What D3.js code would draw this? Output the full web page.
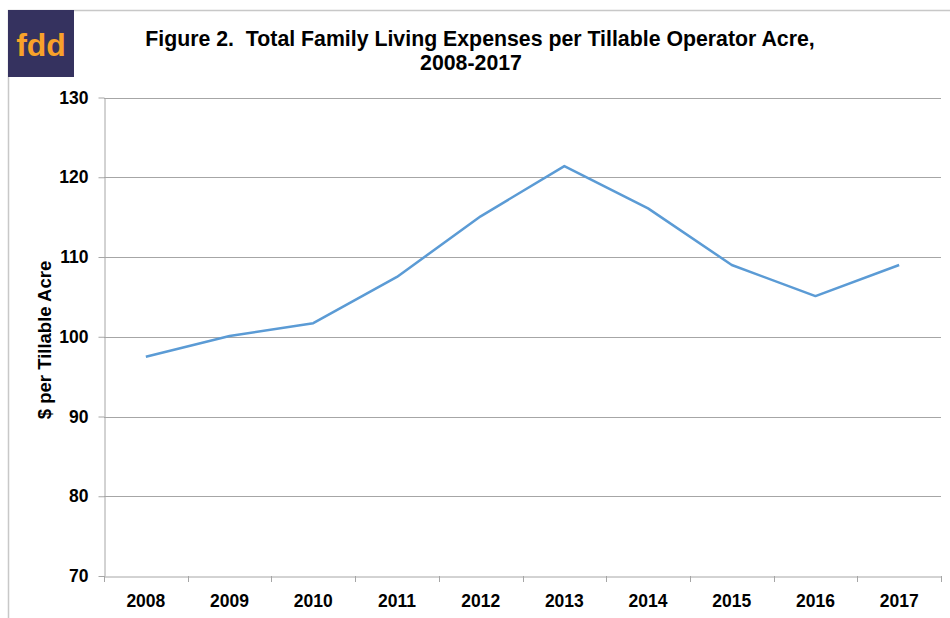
<!DOCTYPE html>
<html><head><meta charset="utf-8">
<script src="https://cdn.jsdelivr.net/npm/d3@7"></script>
<style>body{margin:0;background:#fff}svg{display:block}text{font-family:"Liberation Sans",Arial,sans-serif}</style>
</head><body>
<svg id="chart" width="950" height="618"></svg>
<script>
const years = ["2008","2009","2010","2011","2012","2013","2014","2015","2016","2017"];
const values = [97.5, 100.1, 101.7, 107.5, 115.1, 121.4, 116.1, 109.0, 105.1, 109.0];
const yTicks = [70, 80, 90, 100, 110, 120, 130];
const titleLines = ["Figure 2.  Total Family Living Expenses per Tillable Operator Acre,", "2008-2017"];
const yLabel = "$ per Tillable Acre";

const svg = d3.select("#chart");
const L = 104, R = 941, T = 97.5, B = 576;

// outer border
svg.append("path").attr("d", "M8.5,618 V10.5 H950").attr("fill","none").attr("stroke","#c8c8c8").attr("stroke-width",1.5);

const x = d3.scaleBand().domain(years).range([L, R]);
const y = d3.scaleLinear().domain([70,130]).range([B, T]);

// gridlines
svg.append("g").selectAll("line").data(yTicks.filter(d=>d>70)).join("line")
  .attr("x1", L).attr("x2", R)
  .attr("y1", d=>Math.round(y(d))+0.5).attr("y2", d=>Math.round(y(d))+0.5)
  .attr("stroke","#a6a6a6").attr("stroke-width",1);

// y axis
const yAxis = svg.append("g").attr("transform", `translate(${L+0.5},0)`)
  .call(d3.axisLeft(y).tickValues(yTicks).tickSize(6).tickPadding(10).tickSizeOuter(0));
yAxis.select(".domain").attr("stroke","#a6a6a6");
yAxis.selectAll(".tick line").attr("stroke","#a6a6a6");
yAxis.selectAll(".tick text").attr("font-size","17.5px").attr("font-weight","bold").attr("fill","#000")
  .attr("font-family","Liberation Sans, Arial, sans-serif");

// x axis
const xAxis = svg.append("g").attr("transform", `translate(0,${Math.round(B)+0.5})`)
  .call(d3.axisBottom(x).tickSize(0).tickPadding(18));
xAxis.select(".domain").attr("stroke","#a6a6a6");
xAxis.selectAll(".tick text").attr("font-size","17.5px").attr("font-weight","bold").attr("fill","#000")
  .attr("font-family","Liberation Sans, Arial, sans-serif");
// boundary ticks
const bounds = years.map(d=>x(d)).concat([R]);
svg.append("g").selectAll("line").data(bounds).join("line")
  .attr("x1", d=>Math.round(d)+0.5).attr("x2", d=>Math.round(d)+0.5)
  .attr("y1", Math.round(B)).attr("y2", Math.round(B)+6)
  .attr("stroke","#a6a6a6");

// line
const line = d3.line().x((d,i)=>x(years[i])+x.bandwidth()/2).y(d=>y(d));
svg.append("path").datum(values).attr("d", line)
  .attr("fill","none").attr("stroke","#5b9bd5").attr("stroke-width",2.5).attr("stroke-linejoin","round");

// title
svg.append("text").attr("x", 480).attr("y", 46).attr("text-anchor","middle").style("white-space","pre")
  .attr("font-size","21.3px").attr("font-weight","bold").text(titleLines[0]);
svg.append("text").attr("x", 471).attr("y", 70).attr("text-anchor","middle")
  .attr("font-size","21.3px").attr("font-weight","bold").text(titleLines[1]);

// y label
svg.append("text").attr("transform", `translate(51,340) rotate(-90)`).attr("text-anchor","middle")
  .attr("font-size","18.5px").attr("font-weight","bold").text(yLabel);

// logo
svg.append("rect").attr("x",8).attr("y",10).attr("width",66).attr("height",67).attr("fill","#35325f");
svg.append("text").attr("x",41).attr("y",56).attr("text-anchor","middle")
  .attr("font-size","32px").attr("font-weight","bold").attr("fill","#f8a12a")
  .attr("font-family","Lato, 'Open Sans', sans-serif").text("fdd");
</script>
</body></html>
